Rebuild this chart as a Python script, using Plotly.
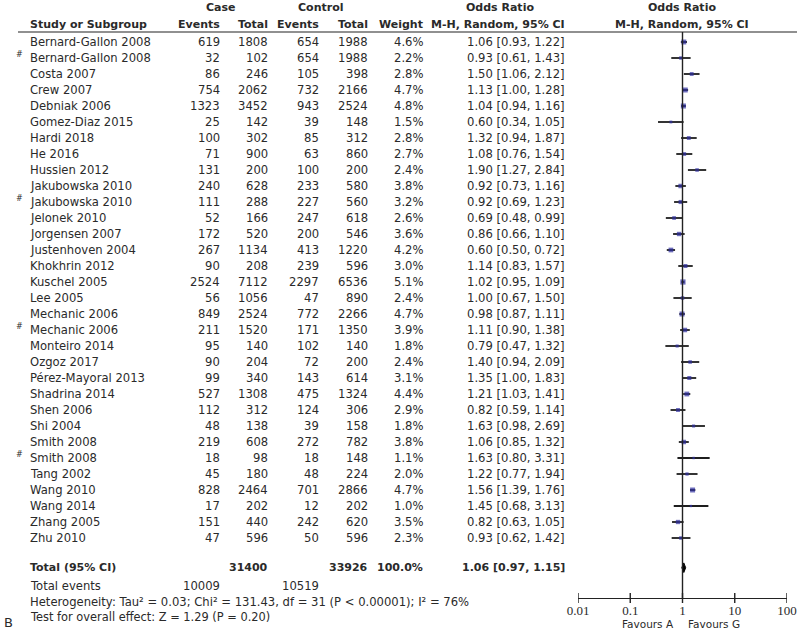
import plotly.graph_objects as go

# study rows
studies = ['Bernard-Gallon 2008', 'Bernard-Gallon 2008', 'Costa 2007', 'Crew 2007', 'Debniak 2006',
           'Gomez-Diaz 2015', 'Hardi 2018', 'He 2016', 'Hussien 2012', 'Jakubowska 2010',
           'Jakubowska 2010', 'Jelonek 2010', 'Jorgensen 2007', 'Justenhoven 2004', 'Khokhrin 2012',
           'Kuschel 2005', 'Lee 2005', 'Mechanic 2006', 'Mechanic 2006', 'Monteiro 2014',
           'Ozgoz 2017', 'Pérez-Mayoral 2013', 'Shadrina 2014', 'Shen 2006', 'Shi 2004',
           'Smith 2008', 'Smith 2008', 'Tang 2002', 'Wang 2010', 'Wang 2014', 'Zhang 2005', 'Zhu 2010']
flagged = [False, True, False, False, False, False, False, False, False, False,
           True, False, False, False, False, False, False, False, True, False,
           False, False, False, False, False, False, True, False, False, False, False, False]
case_events = [619, 32, 86, 754, 1323, 25, 100, 71, 131, 240, 111, 52, 172, 267, 90, 2524,
               56, 849, 211, 95, 90, 99, 527, 112, 48, 219, 18, 45, 828, 17, 151, 47]
case_total = [1808, 102, 246, 2062, 3452, 142, 302, 900, 200, 628, 288, 166, 520, 1134, 208, 7112,
              1056, 2524, 1520, 140, 204, 340, 1308, 312, 138, 608, 98, 180, 2464, 202, 440, 596]
ctrl_events = [654, 654, 105, 732, 943, 39, 85, 63, 100, 233, 227, 247, 200, 413, 239, 2297,
               47, 772, 171, 102, 72, 143, 475, 124, 39, 272, 18, 48, 701, 12, 242, 50]
ctrl_total = [1988, 1988, 398, 2166, 2524, 148, 312, 860, 200, 580, 560, 618, 546, 1220, 596, 6536,
              890, 2266, 1350, 140, 200, 614, 1324, 306, 158, 782, 148, 224, 2866, 202, 620, 596]
weight = [4.6, 2.2, 2.8, 4.7, 4.8, 1.5, 2.8, 2.7, 2.4, 3.8, 3.2, 2.6, 3.6, 4.2, 3.0, 5.1,
          2.4, 4.7, 3.9, 1.8, 2.4, 3.1, 4.4, 2.9, 1.8, 3.8, 1.1, 2.0, 4.7, 1.0, 3.5, 2.3]
odds = [1.06, 0.93, 1.50, 1.13, 1.04, 0.60, 1.32, 1.08, 1.90, 0.92, 0.92, 0.69, 0.86, 0.60, 1.14, 1.02,
        1.00, 0.98, 1.11, 0.79, 1.40, 1.35, 1.21, 0.82, 1.63, 1.06, 1.63, 1.22, 1.56, 1.45, 0.82, 0.93]
ci_lo = [0.93, 0.61, 1.06, 1.00, 0.94, 0.34, 0.94, 0.76, 1.27, 0.73, 0.69, 0.48, 0.66, 0.50, 0.83, 0.95,
         0.67, 0.87, 0.90, 0.47, 0.94, 1.00, 1.03, 0.59, 0.98, 0.85, 0.80, 0.77, 1.39, 0.68, 0.63, 0.62]
ci_hi = [1.22, 1.43, 2.12, 1.28, 1.16, 1.05, 1.87, 1.54, 2.84, 1.16, 1.23, 0.99, 1.10, 0.72, 1.57, 1.09,
         1.50, 1.11, 1.38, 1.32, 2.09, 1.83, 1.41, 1.14, 2.69, 1.32, 3.31, 1.94, 1.76, 3.13, 1.05, 1.42]

# pooled
total_case, total_ctrl = 31400, 33926
events_case, events_ctrl = 10009, 10519
pooled_or, pooled_lo, pooled_hi = 1.06, 0.97, 1.15
hetero = 'Heterogeneity: Tau² = 0.03; Chi² = 131.43, df = 31 (P < 0.00001); I² = 76%'
overall = 'Test for overall effect: Z = 1.29 (P = 0.20)'
ticks = [0.01, 0.1, 1, 10, 100]
tick_text = ['0.01', '0.1', '1', '10', '100']

W, H = 800, 632
ROW0, STEP = 42, 16.0
FONT = 'DejaVu Sans'
TXT = '#2a2a2a'
SZ = 11.6


def px2row(py):
    return (py - ROW0) / STEP


fig = go.Figure()

# CI whiskers
cx, cy = [], []
for i in range(len(studies)):
    cx += [ci_lo[i], ci_hi[i], None]
    cy += [i, i, None]
fig.add_trace(go.Scatter(x=cx, y=cy, mode='lines', line=dict(color='#1e1e1e', width=1.8),
                         hoverinfo='skip', showlegend=False))
fig.add_trace(go.Scatter(x=odds, y=list(range(len(studies))), mode='markers',
                         marker=dict(symbol='square', color='#2e2e9e',
                                     size=[2.3 * w ** 0.5 for w in weight], line=dict(width=0)),
                         showlegend=False))

# pooled diamond
tr = px2row(567.7)
fig.add_trace(go.Scatter(x=[pooled_lo, pooled_or, pooled_hi, pooled_or, pooled_lo],
                         y=[tr, tr - 0.3, tr, tr + 0.3, tr], mode='lines', fill='toself',
                         fillcolor='black', line=dict(color='black', width=1), showlegend=False))

ann = []


def txt(xp, row, s, anchor='right', bold=False, size=SZ, font=FONT, color=TXT):
    if bold:
        s = '<b>' + s + '</b>'
    ann.append(dict(x=xp / W, y=row, xref='paper', yref='y', text=s, showarrow=False,
                    xanchor=anchor, yanchor='middle', font=dict(family=font, size=size, color=color)))


# headers
h1, h2 = px2row(7.5), px2row(24)
txt(221, h1, 'Case', 'center', True, 11)
txt(320, h1, 'Control', 'center', True, 11)
txt(500, h1, 'Odds Ratio', 'center', True, 11)
txt(682, h1, 'Odds Ratio', 'center', True, 11)
txt(28, h2, 'Study or Subgroup', 'left', True, 11)
txt(222, h2, 'Events', 'right', True, 11)
txt(270, h2, 'Total', 'right', True, 11)
txt(321, h2, 'Events', 'right', True, 11)
txt(370, h2, 'Total', 'right', True, 11)
txt(425, h2, 'Weight', 'right', True, 11)
txt(567, h2, 'M-H, Random, 95% CI', 'right', True, 11)
txt(682, h2, 'M-H, Random, 95% CI', 'center', True, 11)

for i, name in enumerate(studies):
    txt(28, i, name, 'left')
    if flagged[i]:
        ann.append(dict(x=19.5 / W, y=i - 0.2, xref='paper', yref='y', text='#', showarrow=False,
                        xanchor='center', yanchor='middle', font=dict(family=FONT, size=8, color=TXT)))
    txt(222, i, str(case_events[i]))
    txt(270, i, str(case_total[i]))
    txt(321, i, str(ctrl_events[i]))
    txt(370, i, str(ctrl_total[i]))
    txt(425, i, '%.1f%%' % weight[i])
    txt(567, i, '%.2f [%.2f, %.2f]' % (odds[i], ci_lo[i], ci_hi[i]))

txt(28, tr, 'Total (95% CI)', 'left', True, 11)
txt(270, tr, str(total_case), 'right', True, 11)
txt(370, tr, str(total_ctrl), 'right', True, 11)
txt(425, tr, '100.0%', 'right', True, 11)
txt(567, tr, '%.2f [%.2f, %.2f]' % (pooled_or, pooled_lo, pooled_hi), 'right', True, 11)
r2 = px2row(586)
txt(28, r2, 'Total events', 'left')
txt(222, r2, str(events_case))
txt(321, r2, str(events_ctrl))
txt(28, px2row(601.5), hetero, 'left', size=11.6)
txt(28, px2row(616.5), overall, 'left', size=11.4)
txt(8, px2row(622), 'B', 'center', size=13)
txt(676, px2row(623.5), 'Favours A', 'right', size=10.5)
txt(686, px2row(623.5), 'Favours G', 'left', size=10.5)

axis_y = 598
shapes = [
    dict(type='line', xref='paper', yref='y', x0=18 / W, x1=797 / W, y0=px2row(32), y1=px2row(32),
         line=dict(color='#222', width=1.2)),
    dict(type='line', xref='x', yref='y', x0=1, x1=1, y0=px2row(32), y1=px2row(axis_y),
         line=dict(color='#222', width=1.4)),
]
for t in ticks:
    shapes.append(dict(type='line', xref='x', yref='y', x0=t, x1=t, y0=px2row(axis_y - 5),
                       y1=px2row(axis_y + 5), line=dict(color='#222', width=1.4)))

fig.update_layout(
    width=W, height=H, margin=dict(l=0, r=0, t=0, b=0, autoexpand=False),
    plot_bgcolor='white', paper_bgcolor='white',
    annotations=ann, shapes=shapes,
    xaxis=dict(type='log', domain=[578 / W, 787 / W], range=[-2, 2], tickvals=ticks, ticktext=tick_text,
               showgrid=False, zeroline=False, showline=True, linecolor='#222', linewidth=1.4,
               ticks='', anchor='free', position=1 - axis_y / H, automargin=False,
               tickfont=dict(family='Liberation Serif', size=13, color=TXT)),
    yaxis=dict(range=[px2row(H), px2row(0)], domain=[0, 1], visible=False, showgrid=False,
               automargin=False),
)

# page body has a default margin; drop it so the figure sits at the window corner
fig.write_html("out.html", config={'displayModeBar': False},
               post_script="document.body.style.margin='0';")
